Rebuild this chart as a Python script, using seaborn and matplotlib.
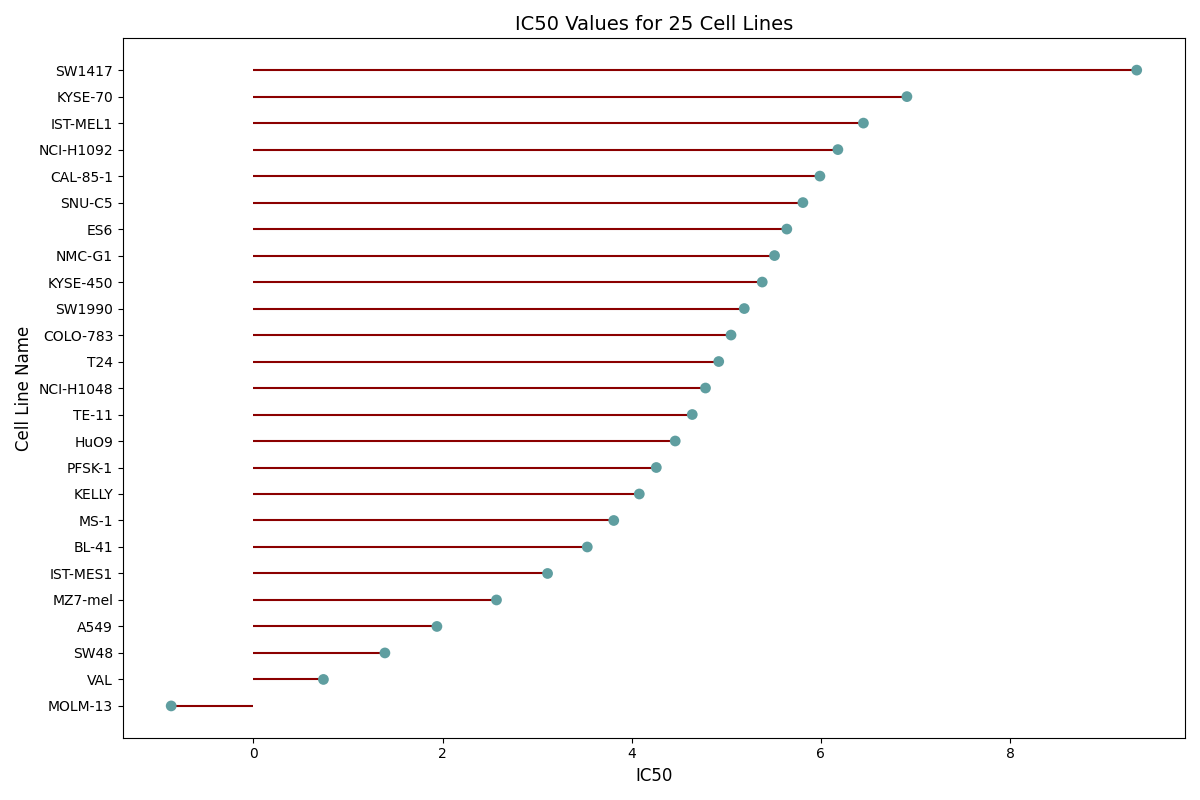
import pandas as pd
import matplotlib
matplotlib.use("Agg")
import matplotlib.pyplot as plt
import seaborn as sns

# Cell lines and IC50 values (top to bottom)
cell_lines = ['SW1417', 'KYSE-70', 'IST-MEL1', 'NCI-H1092', 'CAL-85-1', 'SNU-C5', 'ES6',
              'NMC-G1', 'KYSE-450', 'SW1990', 'COLO-783', 'T24', 'NCI-H1048', 'TE-11',
              'HuO9', 'PFSK-1', 'KELLY', 'MS-1', 'BL-41', 'IST-MES1', 'MZ7-mel', 'A549',
              'SW48', 'VAL', 'MOLM-13']
ic50 = [9.34, 6.91, 6.45, 6.18, 5.99, 5.81, 5.64, 5.51, 5.38, 5.19, 5.05, 4.92, 4.78,
        4.64, 4.46, 4.26, 4.08, 3.81, 3.53, 3.11, 2.57, 1.94, 1.39, 0.74, -0.87]

data = pd.DataFrame({'cell_line': cell_lines, 'IC50': ic50})
# sort ascending so the largest ends up at the top
data = data.sort_values('IC50').reset_index(drop=True)

fig, ax = plt.subplots(figsize=(12, 8))
ax.hlines(y=data['cell_line'], xmin=0, xmax=data['IC50'], color='darkred', linewidth=1.5)
sns.scatterplot(x='IC50', y='cell_line', data=data, color='cadetblue', s=60,
                edgecolor='none', ax=ax, zorder=3)

ax.set_title('IC50 Values for 25 Cell Lines', fontsize=14)
ax.set_xlabel('IC50', fontsize=12)
ax.set_ylabel('Cell Line Name', fontsize=12)
# seaborn flips categorical y; put the smallest value back at the bottom
n = len(data)
ax.set_ylim(-0.05 * (n - 1), (n - 1) * 1.05)

plt.tight_layout()
plt.savefig('out.png', dpi=100)
